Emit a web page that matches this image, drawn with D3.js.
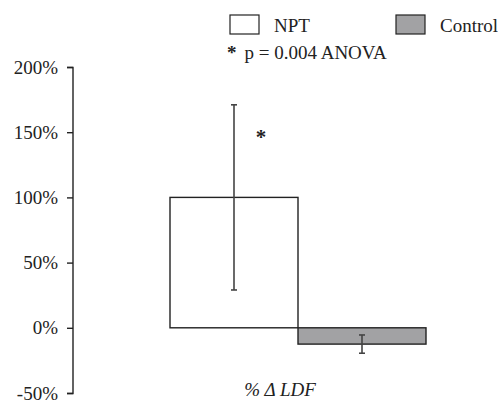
<!DOCTYPE html>
<html>
<head>
<meta charset="utf-8">
<script src="https://cdn.jsdelivr.net/npm/d3@7"></script>
<style>
  body { margin: 0; background: #fff; }
  text { font-family: "Liberation Serif", "Times New Roman", serif; fill: #222; }
</style>
</head>
<body>
<div id="chart"></div>
<script>
var width = 498, height = 400;

// data
var groups = ["NPT", "Control"];
var means = [100, -12.5];
var errors = [71, 7];
var fills = ["#ffffff", "#a2a2a4"];
var yTicks = [-50, 0, 50, 100, 150, 200];

var svg = d3.select("#chart").append("svg")
    .attr("width", width)
    .attr("height", height);

var y = d3.scaleLinear().domain([-50, 200]).range([393, 67]);
var x = d3.scaleBand().domain(groups).range([170, 426]).padding(0);

// y axis
var yAxis = d3.axisLeft(y)
    .tickValues(yTicks)
    .tickSize(6)
    .tickPadding(9)
    .tickFormat(function (d) { return d + "%"; });

var ag = svg.append("g")
    .attr("transform", "translate(73,0)")
    .call(yAxis);
ag.select(".domain").attr("stroke", "#222").attr("stroke-width", 1.4).attr("d", "M-6,67.5H0V393.5H-6");
ag.selectAll(".tick line").attr("stroke", "#222").attr("stroke-width", 1.4);
ag.selectAll(".tick text")
    .style("font-family", "Liberation Serif, serif")
    .style("font-size", "19px")
    .attr("fill", "#222");

// bars
svg.selectAll("rect.bar")
    .data(groups)
    .enter()
    .append("rect")
    .attr("class", "bar")
    .attr("x", function (d) { return x(d); })
    .attr("width", x.bandwidth())
    .attr("y", function (d, i) { return y(Math.max(0, means[i])); })
    .attr("height", function (d, i) { return Math.abs(y(means[i]) - y(0)); })
    .attr("fill", function (d, i) { return fills[i]; })
    .attr("stroke", "#222")
    .attr("stroke-width", 1.4);

// error bars
var eg = svg.selectAll("g.err")
    .data(groups)
    .enter()
    .append("g")
    .attr("class", "err")
    .attr("stroke", "#444")
    .attr("stroke-width", 1.6);

eg.append("line")
    .attr("x1", function (d) { return x(d) + x.bandwidth() / 2; })
    .attr("x2", function (d) { return x(d) + x.bandwidth() / 2; })
    .attr("y1", function (d, i) { return y(means[i] + errors[i]); })
    .attr("y2", function (d, i) { return y(means[i] - errors[i]); });

[1, -1].forEach(function (s) {
    eg.append("line")
        .attr("x1", function (d) { return x(d) + x.bandwidth() / 2 - 3; })
        .attr("x2", function (d) { return x(d) + x.bandwidth() / 2 + 3; })
        .attr("y1", function (d, i) { return y(means[i] + s * errors[i]); })
        .attr("y2", function (d, i) { return y(means[i] + s * errors[i]); });
});

// significance star
svg.append("text")
    .attr("x", x("NPT") + x.bandwidth() / 2 + 27)
    .attr("y", y(150) + 12)
    .attr("text-anchor", "middle")
    .style("font-size", "21px")
    .style("font-weight", "bold")
    .text("*");

// legend
var legend = svg.append("g");
groups.forEach(function (g, i) {
    var lx = i === 0 ? 230 : 396;
    legend.append("rect")
        .attr("x", lx).attr("y", 15)
        .attr("width", 29).attr("height", 19)
        .attr("fill", fills[i])
        .attr("stroke", "#222")
        .attr("stroke-width", 1.2);
    legend.append("text")
        .attr("x", lx + 44).attr("y", 32)
        .style("font-size", "19px")
        .text(g);
});

var note = svg.append("text").attr("x", 227).attr("y", 59).style("font-size", "19px");
note.append("tspan").style("font-weight", "bold").style("font-size", "19px").text("*");
note.append("tspan").attr("dx", 8).text("p = 0.004 ANOVA");

// x label
svg.append("text")
    .attr("x", 280)
    .attr("y", 396)
    .attr("text-anchor", "middle")
    .style("font-size", "19px")
    .style("font-style", "italic")
    .text("% \u0394 LDF");
</script>
</body>
</html>
